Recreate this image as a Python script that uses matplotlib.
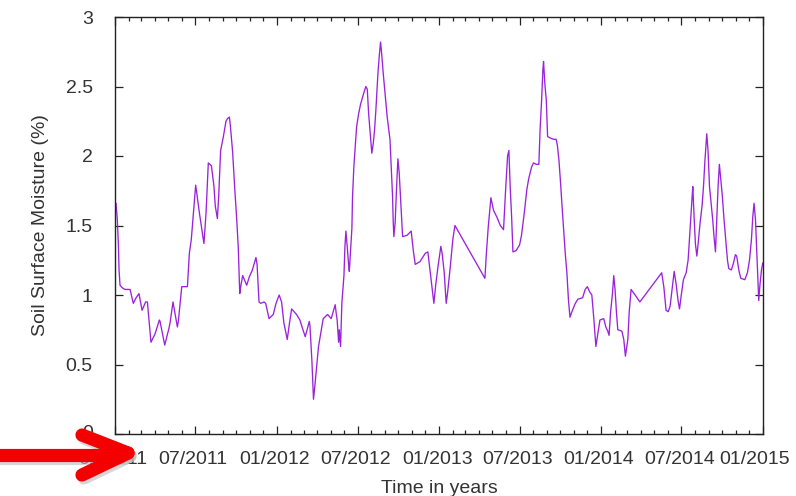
import numpy as np
import pandas as pd
import matplotlib
matplotlib.use("Agg")
import matplotlib.pyplot as plt
import matplotlib.dates as mdates
import matplotlib.transforms as mtransforms
from matplotlib.lines import Line2D

# decimal years
years = [
    2011.000, 2011.006, 2011.014, 2011.021, 2011.025, 2011.031, 2011.047, 2011.062,
    2011.093, 2011.113, 2011.130, 2011.148, 2011.167, 2011.189, 2011.200, 2011.210,
    2011.222, 2011.247, 2011.274, 2011.278, 2011.307, 2011.333, 2011.340, 2011.358,
    2011.385, 2011.391, 2011.412, 2011.438, 2011.447, 2011.459, 2011.471, 2011.484,
    2011.498, 2011.504, 2011.521, 2011.549, 2011.562, 2011.576, 2011.595, 2011.611,
    2011.619, 2011.632, 2011.640, 2011.652, 2011.669, 2011.685, 2011.695, 2011.706,
    2011.712, 2011.726, 2011.739, 2011.751, 2011.761, 2011.770, 2011.776, 2011.788,
    2011.813, 2011.829, 2011.848, 2011.870, 2011.877, 2011.889, 2011.899, 2011.920,
    2011.930, 2011.951, 2011.977, 2011.994, 2012.014, 2012.029, 2012.043, 2012.064,
    2012.078, 2012.091, 2012.121, 2012.142, 2012.158, 2012.175, 2012.200, 2012.204,
    2012.216, 2012.226, 2012.233, 2012.245, 2012.257, 2012.270, 2012.286, 2012.313,
    2012.335, 2012.360, 2012.366, 2012.372, 2012.381, 2012.385, 2012.393, 2012.401,
    2012.414, 2012.420, 2012.426, 2012.434, 2012.442, 2012.447, 2012.455, 2012.463,
    2012.467, 2012.475, 2012.484, 2012.492, 2012.504, 2012.516, 2012.533, 2012.549,
    2012.558, 2012.566, 2012.574, 2012.586, 2012.595, 2012.603, 2012.611, 2012.624,
    2012.632, 2012.640, 2012.648, 2012.656, 2012.669, 2012.681, 2012.698, 2012.706,
    2012.714, 2012.718, 2012.722, 2012.730, 2012.739, 2012.747, 2012.755, 2012.767,
    2012.776, 2012.804, 2012.829, 2012.842, 2012.854, 2012.883, 2012.916, 2012.932,
    2012.944, 2012.957, 2012.969, 2012.981, 2012.994, 2013.010, 2013.018, 2013.031,
    2013.043, 2013.051, 2013.068, 2013.084, 2013.097, 2013.282, 2013.290, 2013.302,
    2013.319, 2013.335, 2013.356, 2013.377, 2013.397, 2013.409, 2013.422, 2013.430,
    2013.438, 2013.447, 2013.455, 2013.475, 2013.496, 2013.508, 2013.525, 2013.541,
    2013.553, 2013.570, 2013.582, 2013.599, 2013.615, 2013.623, 2013.632, 2013.640,
    2013.644, 2013.652, 2013.661, 2013.669, 2013.685, 2013.706, 2013.722, 2013.730,
    2013.739, 2013.747, 2013.753, 2013.761, 2013.770, 2013.778, 2013.788, 2013.798,
    2013.807, 2013.819, 2013.840, 2013.856, 2013.885, 2013.901, 2013.914, 2013.930,
    2013.942, 2013.955, 2013.967, 2013.979, 2013.992, 2014.016, 2014.029, 2014.041,
    2014.049, 2014.058, 2014.070, 2014.078, 2014.086, 2014.095, 2014.103, 2014.128,
    2014.140, 2014.150, 2014.165, 2014.173, 2014.185, 2014.210, 2014.239, 2014.374,
    2014.387, 2014.401, 2014.414, 2014.426, 2014.438, 2014.451, 2014.463, 2014.475,
    2014.484, 2014.496, 2014.508, 2014.525, 2014.537, 2014.545, 2014.553, 2014.562,
    2014.566, 2014.574, 2014.582, 2014.591, 2014.599, 2014.611, 2014.623, 2014.632,
    2014.640, 2014.648, 2014.652, 2014.660, 2014.669, 2014.681, 2014.689, 2014.697,
    2014.706, 2014.714, 2014.722, 2014.730, 2014.739, 2014.747, 2014.759, 2014.771,
    2014.780, 2014.788, 2014.804, 2014.817, 2014.829, 2014.837, 2014.850, 2014.862,
    2014.887, 2014.903, 2014.916, 2014.928, 2014.936, 2014.944, 2014.953, 2014.961,
    2014.969, 2014.973, 2014.981, 2014.990, 2014.998,
]

moisture = [
    1.65, 1.66, 1.55, 1.36, 1.18, 1.07, 1.05, 1.04,
    1.04, 0.94, 0.98, 1.01, 0.89, 0.95, 0.95, 0.82,
    0.66, 0.72, 0.82, 0.81, 0.64, 0.76, 0.80, 0.95,
    0.77, 0.81, 1.06, 1.06, 1.06, 1.30, 1.40, 1.59,
    1.79, 1.74, 1.59, 1.37, 1.59, 1.95, 1.93, 1.78,
    1.64, 1.55, 1.71, 2.04, 2.14, 2.25, 2.27, 2.28,
    2.22, 2.03, 1.77, 1.55, 1.34, 1.01, 1.06, 1.14,
    1.07, 1.13, 1.18, 1.27, 1.22, 0.95, 0.94, 0.95,
    0.94, 0.83, 0.86, 0.94, 1.00, 0.95, 0.80, 0.68,
    0.80, 0.90, 0.86, 0.82, 0.76, 0.70, 0.81, 0.78,
    0.53, 0.25, 0.33, 0.48, 0.63, 0.72, 0.83, 0.86,
    0.83, 0.93, 0.87, 0.82, 0.66, 0.75, 0.63, 0.94,
    1.14, 1.35, 1.46, 1.35, 1.23, 1.17, 1.32, 1.48,
    1.71, 1.92, 2.07, 2.21, 2.30, 2.37, 2.44, 2.50,
    2.48, 2.31, 2.19, 2.02, 2.09, 2.19, 2.33, 2.60,
    2.72, 2.82, 2.72, 2.60, 2.43, 2.28, 2.12, 1.92,
    1.71, 1.53, 1.42, 1.52, 1.78, 1.98, 1.88, 1.61,
    1.42, 1.43, 1.46, 1.32, 1.22, 1.24, 1.30, 1.31,
    1.19, 1.06, 0.94, 1.08, 1.20, 1.35, 1.30, 1.16,
    0.94, 1.01, 1.20, 1.40, 1.50, 1.12, 1.28, 1.48,
    1.70, 1.61, 1.56, 1.50, 1.47, 1.74, 2.00, 2.04,
    1.78, 1.56, 1.31, 1.32, 1.36, 1.43, 1.59, 1.76,
    1.84, 1.92, 1.95, 1.94, 1.94, 2.20, 2.40, 2.62,
    2.68, 2.52, 2.40, 2.14, 2.13, 2.12, 2.12, 2.07,
    1.97, 1.84, 1.73, 1.59, 1.44, 1.30, 1.16, 0.96,
    0.84, 0.88, 0.94, 0.97, 0.98, 1.04, 1.06, 1.02,
    1.00, 0.82, 0.63, 0.72, 0.82, 0.83, 0.77, 0.74,
    0.71, 0.87, 1.01, 1.14, 1.04, 0.87, 0.75, 0.74,
    0.68, 0.56, 0.68, 0.87, 1.04, 1.00, 0.95, 1.16,
    1.06, 0.89, 0.88, 0.92, 1.04, 1.17, 1.08, 0.96,
    0.90, 1.01, 1.11, 1.16, 1.25, 1.40, 1.55, 1.71,
    1.78, 1.56, 1.37, 1.28, 1.37, 1.52, 1.64, 1.78,
    1.95, 2.09, 2.16, 2.04, 1.78, 1.64, 1.54, 1.42,
    1.31, 1.54, 1.78, 1.94, 1.83, 1.73, 1.54, 1.37,
    1.25, 1.19, 1.18, 1.23, 1.29, 1.28, 1.18, 1.12,
    1.11, 1.16, 1.25, 1.40, 1.56, 1.66, 1.54, 1.30,
    1.08, 0.96, 1.08, 1.18, 1.23,
]

y_ticks = [0, 0.5, 1, 1.5, 2, 2.5, 3]
y_tick_labels = ["0", "0.5", "1", "1.5", "2", "2.5", "3"]

# decimal year -> datetime
yrs = np.array(years)
base = np.floor(yrs).astype(int)
dates = [pd.Timestamp(f"{b}-01-01") + pd.Timedelta(days=(y - b) * 365.25)
         for b, y in zip(base, yrs)]

plt.rcParams["font.family"] = ["Liberation Sans", "DejaVu Sans"]
plt.rcParams["font.size"] = 14

fig = plt.figure(figsize=(7.96, 4.96), dpi=100)
ax = fig.add_axes([115 / 796, 62 / 496, 648 / 796, 417 / 496])

ax.plot(dates, moisture, color="#9a22dd", linewidth=0.95)

ax.set_xlim(pd.Timestamp("2011-01-01"), pd.Timestamp("2015-01-01"))
ax.set_ylim(0, 3)
ax.set_yticks(y_ticks)
ax.set_yticklabels(y_tick_labels)

ax.xaxis.set_major_locator(mdates.MonthLocator(bymonth=[1, 7]))
ax.xaxis.set_minor_locator(mdates.MonthLocator())
ax.xaxis.set_major_formatter(mdates.DateFormatter("%m/%Y"))

ax.tick_params(which="both", direction="in", top=True, right=True,
               colors="#222222", labelcolor="#333333")
ax.tick_params(which="major", length=6, width=0.9)
ax.tick_params(which="minor", length=3, width=0.9)
ax.tick_params(axis="x", which="major", pad=12)
ax.tick_params(axis="y", which="major", pad=16)

# gnuplot-ish: date labels sit a little left of their ticks, last one pulled in
fig.canvas.draw()
xlabels = ax.get_xticklabels()
for i, lab in enumerate(xlabels):
    shift = -8 if i == len(xlabels) - 1 else -2
    lab.set_transform(lab.get_transform() +
                      mtransforms.ScaledTranslation(shift / 100, 0, fig.dpi_scale_trans))
# the "0" label sits a touch above its tick
ylabels = ax.get_yticklabels()
ylabels[0].set_transform(ylabels[0].get_transform() +
                         mtransforms.ScaledTranslation(0, 3 / 100, fig.dpi_scale_trans))

for s in ax.spines.values():
    s.set_linewidth(1.0)
    s.set_color("#222222")

ax.set_xlabel("Time in years", color="#333333", labelpad=9)
ax.set_ylabel("Soil Surface Moisture (%)", color="#333333", labelpad=12)

# red arrow pointing at the first date label
px = lambda x, y: (x / 796, 1 - y / 496)
shadow = dict(color="#bbbbbb", linewidth=9.5, solid_capstyle="round",
              transform=fig.transFigure, alpha=0.6)
red = dict(color="#f40000", linewidth=9.5, solid_capstyle="round",
           transform=fig.transFigure)
segments = [((-10, 455), (122, 455)), ((82, 435), (128, 453)), ((82, 475), (128, 453))]
for (a, b) in segments:
    (x0, y0), (x1, y1) = px(*a), px(*b)
    fig.add_artist(Line2D([x0 + 2 / 796, x1 + 2 / 796], [y0 - 3 / 496, y1 - 3 / 496], **shadow))
for (a, b) in segments:
    (x0, y0), (x1, y1) = px(*a), px(*b)
    fig.add_artist(Line2D([x0, x1], [y0, y1], **red))

fig.savefig("out.png", dpi=100)
